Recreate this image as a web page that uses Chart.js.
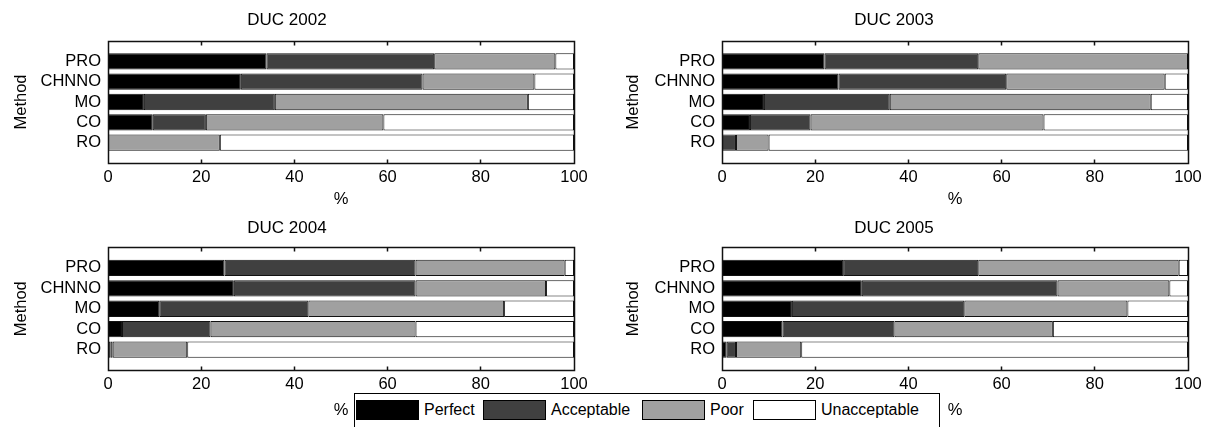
<!DOCTYPE html>
<html lang="en">
<head>
  <meta charset="UTF-8">
  <title>DUC 2002-2005</title>
  <script src="https://cdn.jsdelivr.net/npm/chart.js"></script>
  <style>
    html, body {
      margin: 0;
      padding: 0;
      background: #fff;
    }
    body {
      width: 1209px;
      height: 427px;
      position: relative;
      overflow: hidden;
      font-family: "Liberation Sans", Arial, sans-serif;
    }
    .panel {
      position: absolute;
    }
    #legend {
      position: absolute;
      left: 354px;
      top: 393px;
      width: 586px;
      height: 40px;
      border: 1px solid #000;
      background: #fff;
      box-sizing: border-box;
    }
    .sw {
      position: absolute;
      top: 6px;
      width: 63px;
      height: 20px;
      border: 1px solid #000;
      box-sizing: border-box;
    }
    .lbl {
      position: absolute;
      top: 6px;
      font-size: 16px;
      line-height: 20px;
      color: #000;
    }
  </style>
</head>
<body>
  <div class="panel" style="left:0;top:0;width:600px;height:210px;"><canvas id="c2002"></canvas></div>
  <div class="panel" style="left:600px;top:0;width:609px;height:210px;"><canvas id="c2003"></canvas></div>
  <div class="panel" style="left:0;top:210px;width:600px;height:217px;"><canvas id="c2004"></canvas></div>
  <div class="panel" style="left:600px;top:210px;width:609px;height:217px;"><canvas id="c2005"></canvas></div>

  <div id="legend">
    <span class="sw" style="left:1px;background:#000;"></span>
    <span class="lbl" style="left:69px;">Perfect</span>
    <span class="sw" style="left:128px;background:#404040;"></span>
    <span class="lbl" style="left:196px;">Acceptable</span>
    <span class="sw" style="left:287px;background:#a0a0a0;"></span>
    <span class="lbl" style="left:355px;">Poor</span>
    <span class="sw" style="left:398px;background:#fff;"></span>
    <span class="lbl" style="left:466px;">Unacceptable</span>
  </div>

  <script>
    const methods = ['PRO', 'CHNNO', 'MO', 'CO', 'RO'];
    const xTicks = [20, 40, 60, 80];

    const perfect2002 = [34, 28.5, 7.7, 9.6, 0];
    const acceptable2002 = [36, 39, 28.1, 11.4, 0];
    const poor2002 = [26, 24, 54.3, 38.1, 24];
    const unacceptable2002 = [4, 8.5, 9.9, 40.9, 76];

    const perfect2003 = [22, 25, 9, 6, 0];
    const acceptable2003 = [33, 36, 27, 13, 3];
    const poor2003 = [45, 34, 56, 50, 7];
    const unacceptable2003 = [0, 5, 8, 31, 90];

    const perfect2004 = [25, 27, 11, 3, 0.5];
    const acceptable2004 = [41, 39, 32, 19, 0.5];
    const poor2004 = [32, 28, 42, 44, 16];
    const unacceptable2004 = [2, 6, 15, 34, 83];

    const perfect2005 = [26, 30, 15, 13, 1];
    const acceptable2005 = [29, 42, 37, 24, 2];
    const poor2005 = [43, 24, 35, 34, 14];
    const unacceptable2005 = [2, 4, 13, 29, 83];

    Chart.defaults.font.family = '"Liberation Sans", Arial, sans-serif';
    Chart.defaults.font.size = 16.5;
    Chart.defaults.color = '#000';

    // matlab style box with inward ticks
    const boxPlugin = {
      id: 'box',
      afterDraw(chart) {
        const {ctx, chartArea: a, scales} = chart;
        const l = Math.floor(a.left) + 0.5, r = Math.floor(a.right) + 0.5;
        const t = Math.floor(a.top) + 0.5, b = Math.floor(a.bottom) + 0.5;
        ctx.save();
        ctx.strokeStyle = '#111';
        ctx.lineWidth = 1.5;
        ctx.beginPath();
        ctx.moveTo(l, t);
        ctx.lineTo(r, t);
        ctx.lineTo(r, b);
        ctx.lineTo(l, b);
        ctx.closePath();
        xTicks.forEach(v => {
          const px = Math.floor(scales.x.getPixelForValue(v)) + 0.5;
          ctx.moveTo(px, t);
          ctx.lineTo(px, t + 4);
          ctx.moveTo(px, b);
          ctx.lineTo(px, b - 4);
        });
        ctx.stroke();
        ctx.restore();
      }
    };

    const pad = arr => [null, ...arr, null];

    function makeChart(id, title, series, cfg) {
      const colors = ['#000000', '#404040', '#a0a0a0', '#ffffff'];
      const names = ['Perfect', 'Acceptable', 'Poor', 'Unacceptable'];
      new Chart(document.getElementById(id), {
        type: 'bar',
        data: {
          labels: ['', ...methods, ''],
          datasets: series.map((s, i) => ({
            label: names[i],
            data: pad(s),
            backgroundColor: colors[i],
            borderColor: '#111',
            borderWidth: 1,
            borderSkipped: false,
            barPercentage: 0.8,
            categoryPercentage: 1.0
          }))
        },
        options: {
          indexAxis: 'y',
          responsive: true,
          maintainAspectRatio: false,
          animation: false,
          layout: { padding: { right: cfg.right, left: 0, top: 0, bottom: 0 } },
          plugins: {
            legend: { display: false },
            tooltip: { enabled: false },
            title: {
              display: true,
              text: title,
              color: '#000',
              font: { size: 17, weight: 'normal' },
              padding: { top: cfg.tTop, bottom: cfg.tBottom }
            }
          },
          scales: {
            x: {
              stacked: true,
              min: 0,
              max: 100,
              grid: { display: false, drawTicks: false },
              border: { display: true, color: '#111' },
              ticks: { stepSize: 20, padding: 5, maxRotation: 0 },
              title: { display: true, text: '%', padding: { top: 0, bottom: cfg.pctPad } },
              afterFit: s => { s.height = cfg.xh; }
            },
            y: {
              stacked: true,
              offset: false,
              grid: { display: false, drawTicks: false },
              border: { display: true, color: '#111' },
              ticks: { autoSkip: false, padding: 7 },
              title: { display: true, text: 'Method', padding: { top: cfg.mPad, bottom: 0 } },
              afterFit: s => { s.width = cfg.yw; }
            }
          }
        },
        plugins: [boxPlugin]
      });
    }

    makeChart('c2002', 'DUC 2002', [perfect2002, acceptable2002, poor2002, unacceptable2002],
      { yw: 108, right: 26, tTop: 9.8, tBottom: 10.8, xh: 47, pctPad: 0.4, mPad: 11.4 });
    makeChart('c2003', 'DUC 2003', [perfect2003, acceptable2003, poor2003, unacceptable2003],
      { yw: 122, right: 21, tTop: 9.8, tBottom: 10.8, xh: 47, pctPad: 0.4, mPad: 23.4 });
    makeChart('c2004', 'DUC 2004', [perfect2004, acceptable2004, poor2004, unacceptable2004],
      { yw: 108, right: 26, tTop: 7.8, tBottom: 9.3, xh: 57, pctPad: 6.4, mPad: 11.4 });
    makeChart('c2005', 'DUC 2005', [perfect2005, acceptable2005, poor2005, unacceptable2005],
      { yw: 122, right: 21, tTop: 7.8, tBottom: 9.3, xh: 57, pctPad: 6.4, mPad: 23.4 });
  </script>
</body>
</html>
